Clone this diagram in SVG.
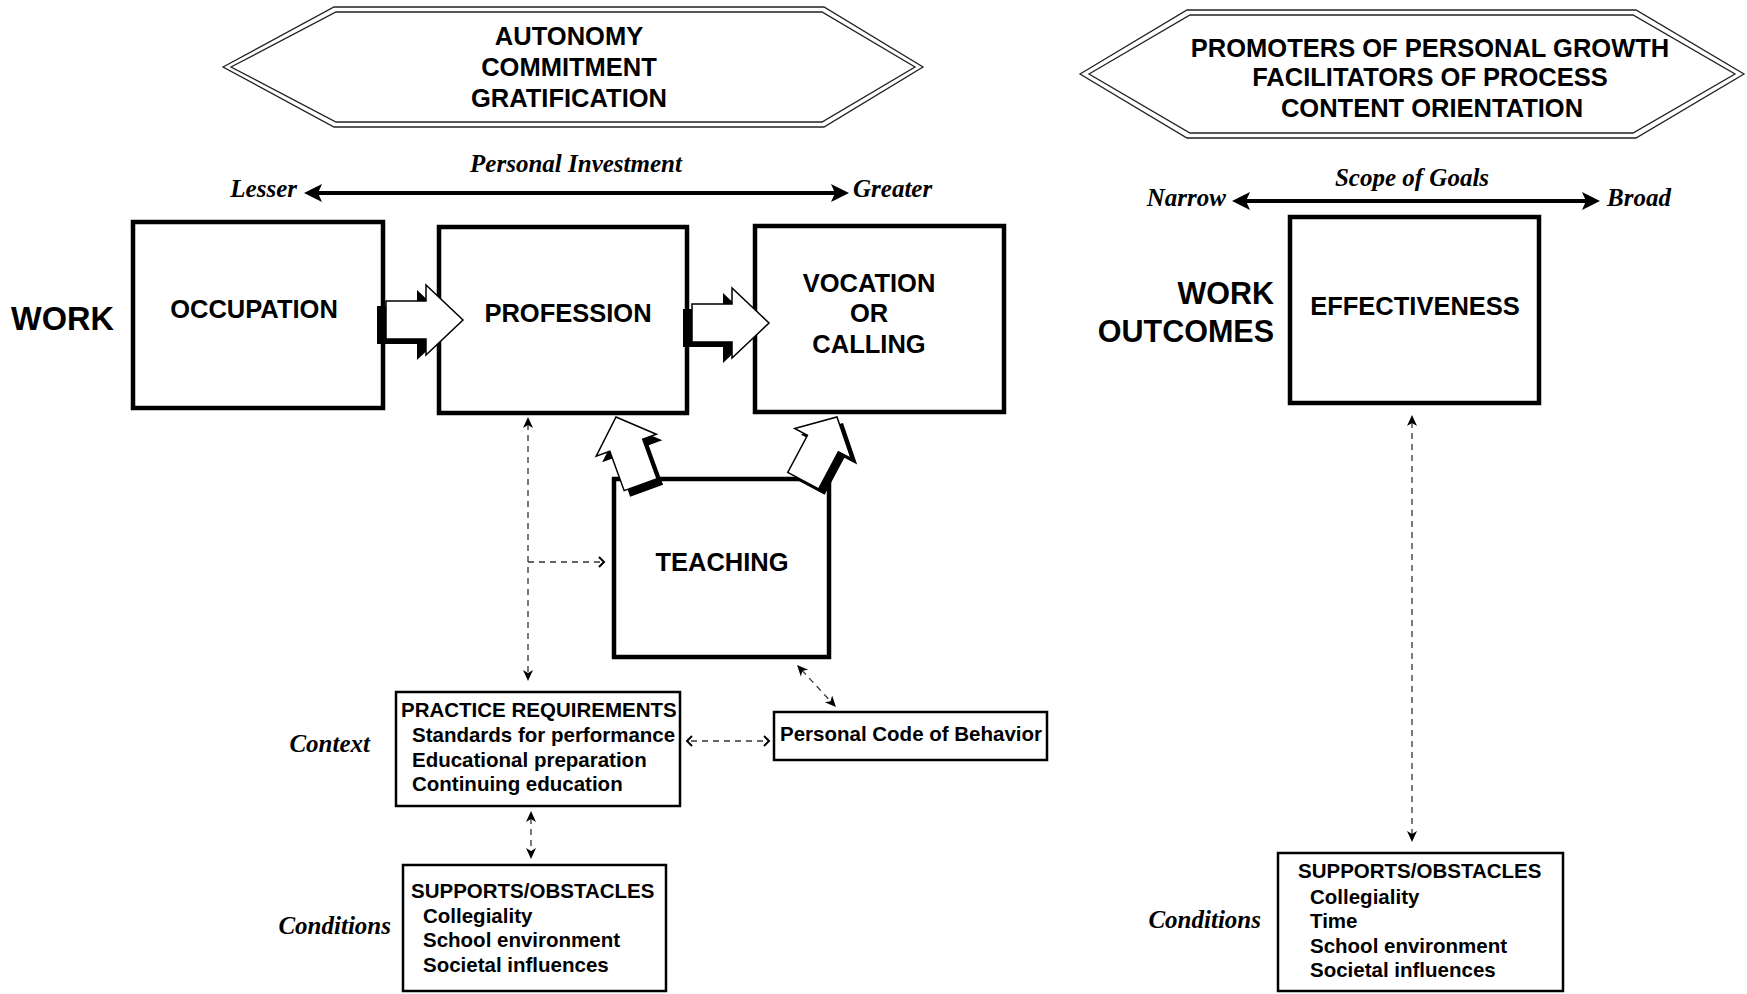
<svg xmlns="http://www.w3.org/2000/svg" xmlns:xlink="http://www.w3.org/1999/xlink" width="1747" height="994" viewBox="0 0 1747 994">
<style>
.bg{fill:#fff}
.box{fill:#fff;stroke:#000;stroke-width:4.5}
.sbox{fill:#fff;stroke:#000;stroke-width:2.5}
.hex{fill:none;stroke:#222;stroke-width:1.3}
.t{font-family:"Liberation Sans",Arial,sans-serif;font-weight:bold;fill:#000}
.big{font-size:25.5px;text-anchor:middle}
.work{font-size:30.5px}
.sm{font-size:20.5px}
.it{font-family:"Liberation Serif","Times New Roman",serif;font-style:italic;font-weight:bold;font-size:25px;fill:#000}
.thick{stroke:#000;stroke-width:4;fill:none}
.dash{stroke:#333;stroke-width:1.3;stroke-dasharray:6 5;fill:none}
.shadow{fill:#000}
.barrow{fill:#fff;stroke:#000;stroke-width:1.5;stroke-linejoin:miter}
</style>
<defs>
<marker id="bigHead" markerUnits="userSpaceOnUse" viewBox="-8 -10 22 20" refX="0" refY="0" markerWidth="22" markerHeight="20" orient="auto-start-reverse"><path d="M12,0 L-6,-9 L-2,0 L-6,9 Z" fill="#000"/></marker>
<marker id="smHead" markerUnits="userSpaceOnUse" viewBox="-6 -6 14 12" refX="0" refY="0" markerWidth="14" markerHeight="12" orient="auto-start-reverse"><path d="M7,0 L-4,-5 L-1,0 L-4,5 Z" fill="#000"/></marker>
<marker id="chev" markerUnits="userSpaceOnUse" viewBox="-4 -7 10 14" refX="0" refY="0" markerWidth="10" markerHeight="14" orient="auto-start-reverse"><path d="M-1,-5 L4,0 L-1,5" fill="none" stroke="#000" stroke-width="2"/></marker>
<path id="harrow" d="M0,-19 L40,-19 L40,-35 L77,0 L40,35 L40,19 L0,19 Z"/>
<path id="uarrow" d="M0,0 L32,30 L17.5,30 L17.5,72 L-17.5,72 L-17.5,30 L-32,30 Z"/>
</defs>
<rect class="bg" x="0" y="0" width="1747" height="994"/>

<g id="hex-left">
<polygon class="hex" points="223,67 334,7 824,7 923,67 824,127 334,127"/>
<polygon class="hex" points="231,67 336,12 822,12 915,67 822,122 336,122"/>
<text class="t big" x="569" y="45">AUTONOMY</text>
<text class="t big" x="569" y="76">COMMITMENT</text>
<text class="t big" x="569" y="107">GRATIFICATION</text>
</g>

<g id="hex-right">
<polygon class="hex" points="1080,74 1187,10 1636,10 1744,74 1636,138 1187,138"/>
<polygon class="hex" points="1089,74 1190,15 1633,15 1735,74 1633,133 1190,133"/>
<text class="t big" x="1430" y="57">PROMOTERS OF PERSONAL GROWTH</text>
<text class="t big" x="1430" y="86">FACILITATORS OF PROCESS</text>
<text class="t big" x="1432" y="117">CONTENT ORIENTATION</text>
</g>

<g id="labels">
<text class="it" x="576" y="172" text-anchor="middle">Personal Investment</text>
<text class="it" x="297" y="197" text-anchor="end">Lesser</text>
<text class="it" x="853" y="197">Greater</text>
<text class="t" x="11" y="330" font-size="32.5">WORK</text>
<text class="it" x="1412" y="186" text-anchor="middle">Scope of Goals</text>
<text class="it" x="1226" y="206" text-anchor="end">Narrow</text>
<text class="it" x="1607" y="206">Broad</text>
<text class="t work" x="1274" y="304" text-anchor="end">WORK</text>
<text class="t work" x="1274" y="342" text-anchor="end">OUTCOMES</text>
<text class="it" x="370" y="752" text-anchor="end">Context</text>
<text class="it" x="391" y="934" text-anchor="end">Conditions</text>
<text class="it" x="1261" y="928" text-anchor="end">Conditions</text>
</g>

<g id="occupation">
<rect class="box" x="133" y="222" width="250" height="186"/>
<text class="t big" x="254" y="318">OCCUPATION</text>
</g>
<g id="profession">
<rect class="box" x="439" y="227" width="248" height="186"/>
<text class="t big" x="568" y="322">PROFESSION</text>
</g>
<g id="vocation">
<rect class="box" x="755" y="226" width="249" height="186"/>
<text class="t big" x="869" y="292">VOCATION</text>
<text class="t big" x="869" y="322">OR</text>
<text class="t big" x="869" y="353">CALLING</text>
</g>
<g id="teaching">
<rect class="box" x="614" y="479" width="215" height="178"/>
<text class="t big" x="722" y="571">TEACHING</text>
</g>
<g id="effectiveness">
<rect class="box" x="1290" y="217" width="249" height="186"/>
<text class="t big" x="1415" y="315">EFFECTIVENESS</text>
</g>
<g id="practice">
<rect class="sbox" x="396" y="692" width="284" height="114"/>
<text class="t sm" x="401" y="717">PRACTICE REQUIREMENTS</text>
<text class="t sm" x="412" y="742">Standards for performance</text>
<text class="t sm" x="412" y="767">Educational preparation</text>
<text class="t sm" x="412" y="791">Continuing education</text>
</g>
<g id="personal-code">
<rect class="sbox" x="774" y="712" width="273" height="48"/>
<text class="t sm" x="780" y="741">Personal Code of Behavior</text>
</g>
<g id="supports-left">
<rect class="sbox" x="403" y="865" width="263" height="126"/>
<text class="t sm" x="411" y="898">SUPPORTS/OBSTACLES</text>
<text class="t sm" x="423" y="923">Collegiality</text>
<text class="t sm" x="423" y="947">School environment</text>
<text class="t sm" x="423" y="972">Societal influences</text>
</g>
<g id="supports-right">
<rect class="sbox" x="1278" y="853" width="285" height="138"/>
<text class="t sm" x="1298" y="878">SUPPORTS/OBSTACLES</text>
<text class="t sm" x="1310" y="904">Collegiality</text>
<text class="t sm" x="1310" y="928">Time</text>
<text class="t sm" x="1310" y="953">School environment</text>
<text class="t sm" x="1310" y="977">Societal influences</text>
</g>

<g id="connectors">
<path class="thick" d="M316,193 H837" marker-start="url(#bigHead)" marker-end="url(#bigHead)"/>
<path class="thick" d="M1244,201 H1588" marker-start="url(#bigHead)" marker-end="url(#bigHead)"/>
<use href="#harrow" class="shadow" transform="translate(377,325)"/>
<use href="#harrow" class="barrow" transform="translate(386,320)"/>
<use href="#harrow" class="shadow" transform="translate(683,328)"/>
<use href="#harrow" class="barrow" transform="translate(692,323)"/>
<use href="#uarrow" class="shadow" transform="translate(622,423) rotate(-20)"/>
<use href="#uarrow" class="barrow" transform="translate(616,417) rotate(-20)"/>
<use href="#uarrow" class="shadow" transform="translate(843,423) rotate(28)"/>
<use href="#uarrow" class="barrow" transform="translate(837,417) rotate(28)"/>
<path class="dash" d="M528,424 V674" marker-start="url(#smHead)" marker-end="url(#smHead)"/>
<path class="dash" d="M528,562 H600" marker-end="url(#chev)"/>
<path class="dash" d="M691,741 H765" marker-start="url(#chev)" marker-end="url(#chev)"/>
<path class="dash" d="M801.8,670.1 L831.2,701.9" marker-start="url(#smHead)" marker-end="url(#smHead)"/>
<path class="dash" d="M531,818 V852" marker-start="url(#smHead)" marker-end="url(#smHead)"/>
<path class="dash" d="M1412,422 V835" marker-start="url(#smHead)" marker-end="url(#smHead)"/>
</g>
</svg>
